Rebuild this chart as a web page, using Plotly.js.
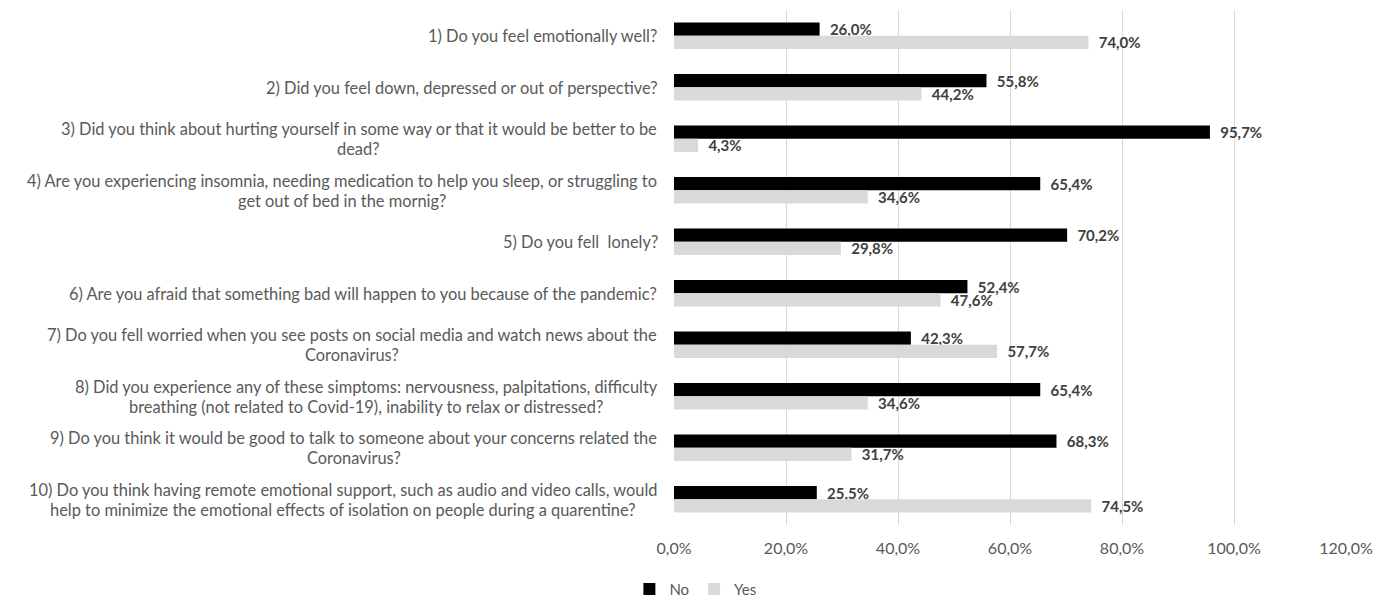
<!DOCTYPE html>
<html>
<head>
<meta charset="utf-8">
<script src="https://cdn.plot.ly/plotly-3.0.1.min.js"></script>
<style>html,body{margin:0;padding:0;background:#fff;}#chart{width:1388px;height:597px;}</style>
</head>
<body>
<div id="chart"></div>
<script>
const questions = [
  "1) Do you feel emotionally well?",
  "2) Did you feel down, depressed or out of perspective?",
  "3) Did you think about hurting yourself in some way or that it would be better to be<br>dead?",
  "4) Are you experiencing insomnia, needing medication to help you sleep, or struggling to<br>get out of bed in the mornig?",
  "5) Do you fell  lonely?",
  "6) Are you afraid that something bad will happen to you because of the pandemic?",
  "7) Do you fell worried when you see posts on social media and watch news about the<br>Coronavirus?",
  "8) Did you experience any of these simptoms: nervousness, palpitations, difficulty<br>breathing (not related to Covid-19), inability to relax or distressed?",
  "9) Do you think it would be good to talk to someone about your concerns related the<br>Coronavirus?",
  "10) Do you think having remote emotional support, such as audio and video calls, would<br>help to minimize the emotional effects of isolation on people during a quarentine?"
];
const categories = ["Q1","Q2","Q3","Q4","Q5","Q6","Q7","Q8","Q9","Q10"];
const noValues  = [26.0, 55.8, 95.7, 65.4, 70.2, 52.4, 42.3, 65.4, 68.3, 25.5];
const yesValues = [74.0, 44.2, 4.3, 34.6, 29.8, 47.6, 57.7, 34.6, 31.7, 74.5];
const tickValues = [0, 20, 40, 60, 80, 100, 120];
const tickLabels = ["0,0%", "20,0%", "40,0%", "60,0%", "80,0%", "100,0%", "120,0%"];

const FONT = "Lato, 'Open Sans', sans-serif";
const Q_SIZE = 16.4;
const Q_LINE = 20;
const labelFont = {family: FONT, size: 15, color: "#404040", weight: "bold"};

const traces = [
  {type: "bar", orientation: "h", name: "No", y: categories, x: noValues,
   marker: {color: "#000000"}, texttemplate: "\u00a0\u00a0<b>%{x:.1f}%</b>", textposition: "outside",
   constraintext: "none", textfont: labelFont, cliponaxis: false, hoverinfo: "skip"},
  {type: "bar", orientation: "h", name: "Yes", y: categories, x: yesValues,
   marker: {color: "#d9d9d9"}, texttemplate: "\u00a0\u00a0<b>%{x:.1f}%</b>", textposition: "outside",
   constraintext: "none", textfont: labelFont, cliponaxis: false, hoverinfo: "skip"}
];

// measure lines so that each multi-line label is centred on its widest line
const ctx = document.createElement("canvas").getContext("2d");
ctx.font = Q_SIZE + "px Lato";
const annotations = [];
categories.forEach((c, i) => {
  const lines = questions[i].split("<br>");
  const widths = lines.map(l => ctx.measureText(l).width);
  const maxW = Math.max.apply(null, widths);
  lines.forEach((line, k) => {
    const off = (k - (lines.length - 1) / 2) * Q_LINE;
    annotations.push({
      xref: "paper", yref: "y", x: 0, y: c, xanchor: "center", yanchor: "middle",
      xshift: -16 - maxW / 2, yshift: -off, text: line, showarrow: false,
      font: {family: FONT, size: Q_SIZE, color: "#595959"}
    });
  });
});

const layout = {
  width: 1388, height: 597,
  margin: {l: 674, r: 42, t: 10, b: 72},
  paper_bgcolor: "#ffffff", plot_bgcolor: "#ffffff",
  separators: ",.",
  barmode: "group", bargap: 0.49, bargroupgap: 0,
  font: {family: FONT, size: 15, color: "#595959"},
  xaxis: {range: [0, 120], tickvals: tickValues, ticktext: tickLabels,
          showgrid: true, gridcolor: "#d9d9d9", gridwidth: 1, zeroline: false,
          showline: false, ticks: "", ticklabelstandoff: 12,
          tickfont: {family: FONT, size: 16, color: "#595959"}, fixedrange: true},
  yaxis: {type: "category", categoryorder: "array", categoryarray: categories,
          autorange: "reversed", showticklabels: false, showgrid: false,
          zeroline: false, ticks: "", fixedrange: true},
  legend: {orientation: "h", xref: "container", yref: "container",
           x: 0.501, xanchor: "center", y: 0.013, yanchor: "middle",
           traceorder: "normal", font: {family: FONT, size: 15, color: "#595959"},
           itemwidth: 30, tracegroupgap: 0},
  annotations: annotations,
  showlegend: true
};

Plotly.newPlot("chart", traces, layout, {displayModeBar: false, staticPlot: true});
</script>
</body>
</html>
